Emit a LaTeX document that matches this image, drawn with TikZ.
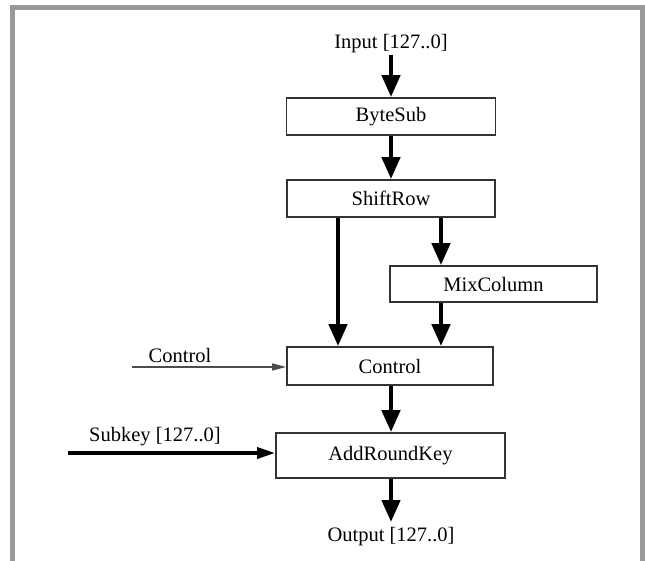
\documentclass[tikz,border=0pt]{standalone}
\usepackage{fontspec}
\setmainfont{Liberation Serif}
\usetikzlibrary{arrows.meta}
\begin{document}
\begin{tikzpicture}[x=1pt,y=-1pt,
  txt/.style={font=\fontsize{20.5}{23}\selectfont},
  stage/.style={txt,draw=black!80,line width=1.8pt,minimum height=37pt,inner sep=0pt},
  lbl/.style={txt,inner sep=0pt},
  flow/.style={line width=4.5pt,-{Triangle[width=18pt,length=22pt]}},
  thin/.style={line width=1.3pt,draw=black!70,-{Triangle[width=7pt,length=14pt]}},
  feed/.style={line width=3.5pt,-{Triangle[width=11pt,length=18pt]}}]
  \useasboundingbox (0,0) rectangle (645,560);
  % frame, open at the bottom edge
  \draw[line width=5pt,draw=black!40] (12.5,565) -- (12.5,7.5) -- (642.5,7.5) -- (642.5,565);
  % stages
  \node[stage,minimum width=209pt] (bs) at (391,116.5) {ByteSub};
  \node[stage,minimum width=208pt] (sr) at (391,198.5) {ShiftRow};
  \node[stage,minimum width=207pt,minimum height=36pt] (mc) at (493.5,284) {MixColumn};
  \node[stage,minimum width=206pt,minimum height=38pt] (ct) at (390,366) {Control};
  \node[stage,minimum width=229pt,minimum height=45pt] (ark) at (390.5,455.5) {AddRoundKey};
  % labels
  \node[lbl] (in) at (391,44) {Input [127..0]};
  \node[lbl] (out) at (391,537) {Output [127..0]};
  \node[lbl] (ctl) at (180,355) {Control};
  \node[lbl] (sk) at (155,437) {Subkey [127..0]};
  \coordinate (ctlstart) at (132,367);
  \coordinate (skstart) at (68,453);
  \coordinate (outend) at (391,522);
  % connectors
  \draw[flow] (391,55) -- (bs.north);
  \draw[flow] (bs) -- (sr);
  \draw[flow] (sr.south -| 338,0) -- (ct.north -| 338,0);
  \draw[flow] (sr.south -| 441,0) -- (mc.north -| 441,0);
  \draw[flow] (mc.south -| 441,0) -- (ct.north -| 441,0);
  \draw[flow] (ct.south -| 391,0) -- (ark.north -| 391,0);
  \draw[flow] (ark.south -| 391,0) -- (outend);
  \draw[thin] (ctlstart) -- (ctlstart -| ct.west);
  \draw[feed] (skstart) -- (skstart -| ark.west);
\end{tikzpicture}
\end{document}
